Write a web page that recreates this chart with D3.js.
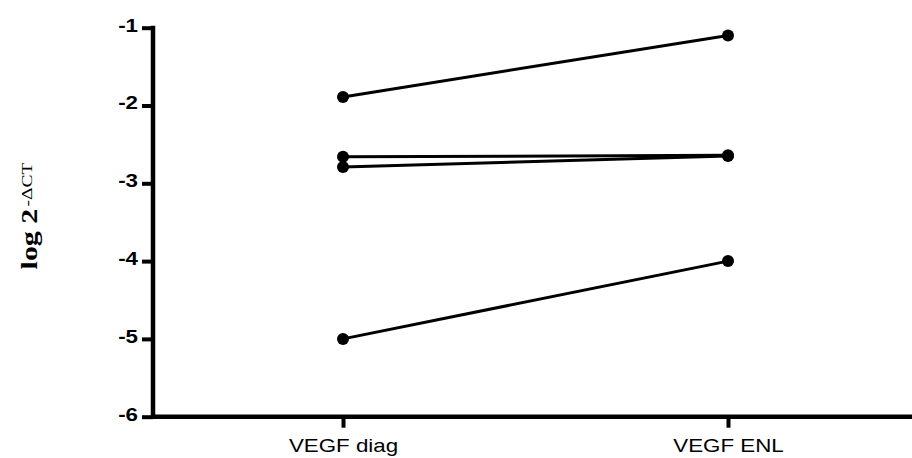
<!DOCTYPE html>
<html>
<head>
<meta charset="utf-8">
<script src="https://cdn.jsdelivr.net/npm/d3@7"></script>
<style>
  html, body { margin: 0; padding: 0; background: #fff; }
  svg { display: block; }
</style>
</head>
<body>
<svg id="chart" width="912" height="458"></svg>
<script>
// Data
const categories = ["VEGF diag", "VEGF ENL"];
const subject1 = [-1.89, -1.10];
const subject2 = [-2.66, -2.64];
const subject3 = [-2.79, -2.65];
const subject4 = [-5.00, -4.00];
const yTicks = [-6, -5, -4, -3, -2, -1];
const yTitle = "log 2";
const yTitleSup = "-\u0394CT";

const series = [subject1, subject2, subject3, subject4];

const svg = d3.select("#chart");
const axisX0 = 153, axisX1 = 912;
const stretch = 1.2;
const y = d3.scaleLinear().domain([-6, -1]).range([416.7, 27.7]);
const x = d3.scalePoint().domain(categories).range([343, 728]);

// Y axis
const yAxis = svg.append("g")
  .attr("transform", `translate(${axisX0},0)`)
  .call(d3.axisLeft(y).tickValues(yTicks).tickSize(11).tickSizeOuter(0).tickPadding(3).tickFormat(d3.format("d")));
yAxis.select(".domain").attr("stroke", "#000").attr("stroke-width", 4.5)
  .attr("d", `M0,${y(-1) - 2}V${y(-6) + 2}`);
yAxis.selectAll(".tick line").attr("stroke", "#000").attr("stroke-width", 4);
yAxis.selectAll(".tick text")
  .attr("font-family", "Liberation Sans, Arial, sans-serif")
  .attr("font-weight", "bold").attr("font-size", 18.6).attr("fill", "#000")
  .attr("x", -15 / stretch).attr("y", 3.4).attr("dy", 0)
  .attr("transform", `scale(${stretch},1)`)
  .text(d => d3.format("d")(d).replace("\u2212", "-"));

// X axis
const xAxis = svg.append("g")
  .attr("transform", `translate(0,${y(-6)})`)
  .call(d3.axisBottom(x).tickSize(11).tickSizeOuter(0));
xAxis.select(".domain").attr("stroke", "#000").attr("stroke-width", 4.5)
  .attr("d", `M${axisX0 - 2},0H${axisX1}`);
xAxis.selectAll(".tick line").attr("stroke", "#000").attr("stroke-width", 4);
xAxis.selectAll(".tick text")
  .attr("font-family", "Liberation Sans, Arial, sans-serif")
  .attr("font-size", 18.6).attr("fill", "#000")
  .attr("y", 35).attr("dy", 0)
  .attr("transform", `scale(${stretch},1)`);

// Lines
const line = d3.line().x((d, i) => x(categories[i])).y(d => y(d));
svg.append("g").selectAll("path").data(series).join("path")
  .attr("d", d => line(d))
  .attr("fill", "none").attr("stroke", "#000").attr("stroke-width", 3);

// Points
const pts = [];
series.forEach(s => s.forEach((v, i) => pts.push({ c: categories[i], v })));
svg.append("g").selectAll("circle").data(pts).join("circle")
  .attr("cx", d => x(d.c)).attr("cy", d => y(d.v)).attr("r", 6).attr("fill", "#000");

// Y title
const t = svg.append("text")
  .attr("transform", `translate(37,216) rotate(-90) scale(1.3,1)`)
  .attr("text-anchor", "middle")
  .attr("font-family", "Liberation Serif, Times New Roman, serif")
  .attr("font-weight", "bold").attr("font-size", 23).attr("fill", "#000");
t.append("tspan").text(yTitle + " ");
t.append("tspan").attr("dy", -5.5).attr("dx", -4).attr("font-size", 15).attr("font-weight", "normal").text(yTitleSup);
</script>
</body>
</html>
